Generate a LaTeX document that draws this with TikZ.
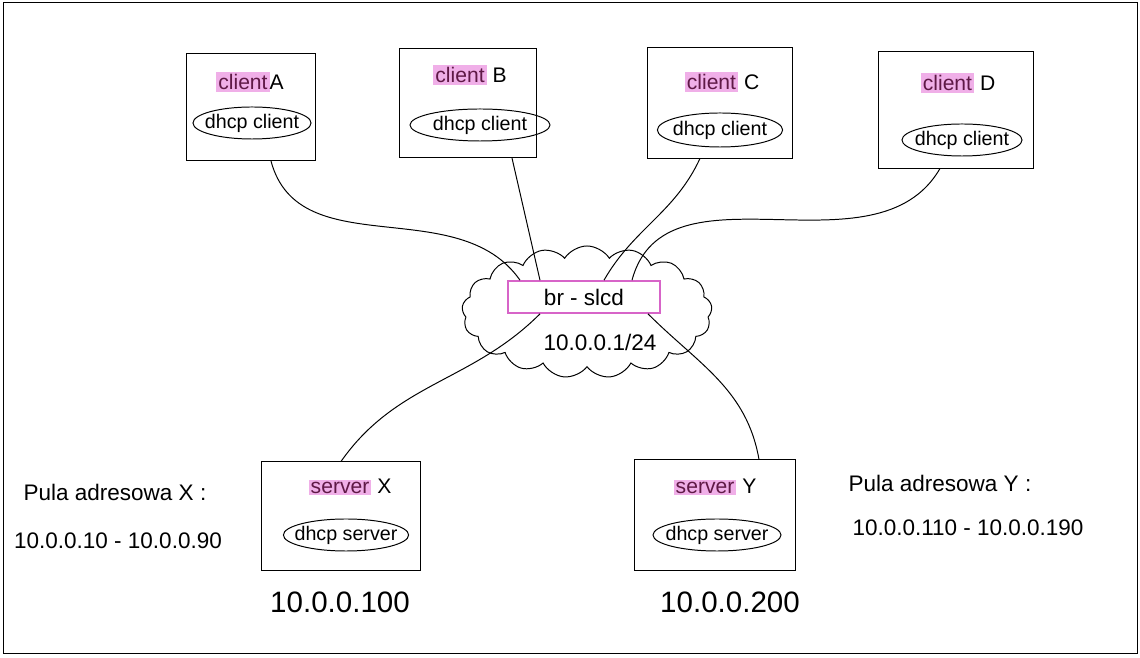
\documentclass[tikz,border=0pt]{standalone}
\usepackage{fontspec}
\setmainfont{Liberation Sans}
\usetikzlibrary{shapes.geometric,shapes.symbols}
\definecolor{hlpink}{RGB}{240,175,232}
\definecolor{inkpurple}{RGB}{95,25,70}
\definecolor{rimpink}{RGB}{215,100,200}
\newcommand{\hlword}[1]{{\setlength{\fboxsep}{1.5pt}\colorbox{hlpink}{\color{inkpurple}#1}}}
\newcommand{\fs}[1]{\fontsize{#1}{#1}\selectfont}

\begin{document}
\begin{tikzpicture}[x=0.025cm, y=0.025cm, line width=0.7pt]
            \useasboundingbox (0,0) rectangle (1140,658);
            \draw (3,5) rectangle (1137,656);
            \begin{scope}[every node/.style={rectangle,draw=black,line width=0.7pt}]
            \node[minimum width=3.2cm, minimum height=2.68cm] (cA) at (251,551) {};
            \node[minimum width=3.43cm, minimum height=2.73cm] (cB) at (468,555) {};
            \node[minimum width=3.63cm, minimum height=2.75cm] (cC) at (720,555) {};
            \node[minimum width=3.88cm, minimum height=2.9cm] (cD) at (956,548) {};
            \node[minimum width=3.95cm, minimum height=2.7cm] (sX) at (341,142) {};
            \node[minimum width=4cm, minimum height=2.75cm] (sY) at (715,143) {};
            \end{scope}
            \begin{scope}[every node/.style={font=\fs{15}}]
            \node (lA) at (250,576) {\hlword{client}A};
            \node (lB) at (470,583) {\hlword{client} B};
            \node (lC) at (722,576) {\hlword{client} C};
            \node (lD) at (958,575) {\hlword{client} D};
            \node (lX) at (350,171) {\hlword{server} X};
            \node (lY) at (715,171) {\hlword{server} Y};
            \end{scope}
            \begin{scope}[every node/.style={ellipse,draw=black,inner sep=0pt,inner xsep=-6pt,minimum height=0.8cm,font=\fs{14}}]
            \node[minimum width=2.95cm] (eA) at (252,535) {dhcp client};
            \node[minimum width=3.5cm] (eB) at (480,533) {dhcp client};
            \node[minimum width=3.13cm, minimum height=0.85cm] (eC) at (720,528) {dhcp client};
            \node[minimum width=3cm] (eD) at (962,518) {dhcp client};
            \node[minimum width=3.13cm] (eX) at (346,123) {dhcp server};
            \node[minimum width=3.2cm] (eY) at (717,123) {dhcp server};
            \end{scope}
            \node[cloud, draw=black, cloud puffs=17, cloud puff arc=115, aspect=2,
                  minimum width=6.25cm, minimum height=3.3cm, inner sep=0pt] (cloud) at (587,346) {};
            \node[rectangle, draw=rimpink, line width=1.2pt, minimum width=3.8cm, minimum height=0.8cm,
                  font=\fs{16}] (br) at (584,361) {br - slcd};
            \node[font=\fs{16}] (ip) at (600,316) {10.0.0.1/24};
            \begin{scope}[every node/.style={font=\fs{21}}]
            \node (ipX) at (340,56) {10.0.0.100};
            \node (ipY) at (730,56) {10.0.0.200};
            \end{scope}
            \begin{scope}[every node/.style={font=\fs{16}}]
            \node (pX) at (115,166) {Pula adresowa X :};
            \node (rX) at (118,117) {10.0.0.10 - 10.0.0.90};
            \node (pY) at (940,175) {Pula adresowa Y :};
            \node (rY) at (968,130) {10.0.0.110 - 10.0.0.190};
            \end{scope}
            \begin{scope}[every edge/.style={draw=black,line width=0.7pt}]
            \draw ([xshift=0.5cm]cA.south) edge[out=-75, in=125] ([xshift=-1.6cm]br.north);
            \draw ([xshift=1.1cm]cB.south) edge ([xshift=-1.1cm]br.north);
            \draw ([xshift=-0.5cm]cC.south) edge[out=-115, in=60] ([xshift=0.5cm]br.north);
            \draw ([xshift=-0.4cm]cD.south) edge[out=-120, in=75] ([xshift=1.2cm]br.north);
            \draw (sX.north) edge[out=55, in=-135] ([xshift=-1.1cm]br.south);
            \draw ([xshift=1.1cm]sY.north) edge[out=100, in=-45] ([xshift=1.6cm]br.south);
            \end{scope}
            \end{tikzpicture}
\end{document}
